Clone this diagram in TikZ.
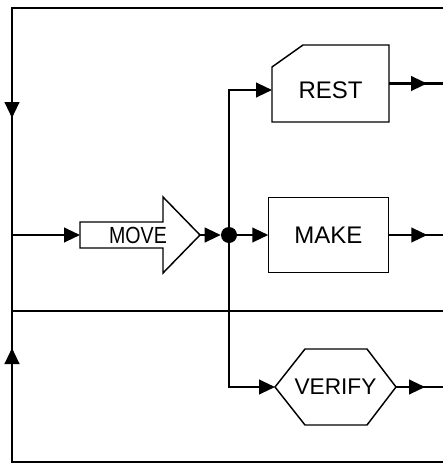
\documentclass[tikz,border=0pt]{standalone}
\usepackage{fontspec}
\setmainfont{Liberation Sans}
\newfontfamily\narrowsf[FakeStretch=0.84]{Liberation Sans}
\usetikzlibrary{positioning, arrows.meta, calc, decorations.markings}

\begin{document}
\begin{tikzpicture}[
    x=0.75pt, y=-0.75pt,
    >={Triangle[length=12pt, width=11pt]},
    wire/.style={line width=1.6pt},
    flow/.style={wire, ->},
    midflow/.style={postaction={decorate}, decoration={markings, mark=at position #1 with {\arrow{>}}}},
    outline/.style={line width=1.1pt},
    blk/.style={rectangle, outline, inner sep=0pt, outer sep=0pt, align=center, font=\fontsize{18}{21}\selectfont},
    junct/.style={circle, fill=black, inner sep=0pt, minimum size=12pt},
]
\useasboundingbox (0,0) rectangle (443,464);

% frame corners
\coordinate (tl) at (12,8);
\coordinate (tr) at (443,8);
\coordinate (ml) at (12,311);
\coordinate (mr) at (443,311);
\coordinate (bl) at (12,462);
\coordinate (br) at (443,462);

% blocks
\node [blk, font=\narrowsf\fontsize{17.5}{20}\selectfont] (move) at (138,235) {MOVE};
\node [junct] (hub) at (229,235) {};
\node [blk, draw, minimum width=90pt, minimum height=56.25pt, right=23.25pt of hub] (make) {MAKE};
\node [blk, minimum width=87.75pt, minimum height=57.75pt, text height=22.6pt, text depth=0pt] (rest) at (330.5,83.5) {REST};
\node [blk, minimum width=90.75pt, minimum height=57pt, font=\fontsize{17}{20}\selectfont] (verify) at (335.5,387) {VERIFY};

% block arrow round MOVE
\coordinate (movetail) at ($(move)+(-58,0)$);
\coordinate (movetip) at ($(move)+(62,0)$);
\draw [outline] ($(move)+(-58,-13)$) -- ($(move)+(25,-13)$) -- ($(move)+(25,-38)$) -- (movetip)
  -- ($(move)+(25,38)$) -- ($(move)+(25,13)$) -- ($(move)+(-58,13)$) -- cycle;

% REST with the cut corner, VERIFY as a stretched hexagon
\draw [outline] ($(rest.north west)+(0,22)$) -- ($(rest.north west)+(31,0)$) -- (rest.north east)
  -- (rest.south east) -- (rest.south west) -- cycle;
\draw [outline] (verify.west) -- ($(verify.north west)+(30,0)$) -- ($(verify.north east)+(-29,0)$)
  -- (verify.east) -- ($(verify.south east)+(-29,0)$) -- ($(verify.south west)+(30,0)$) -- cycle;

% outer loop
\draw [wire, midflow=405.75pt] (tr) -- (tl) -- (ml);
\draw [wire, midflow=408.75pt] (br) -- (bl) -- (ml);
\draw [wire] (ml) -- (mr);

% main flow
\draw [flow] (movetail -| tl) -- (movetail);
\draw [flow] (movetip) -- (hub);
\draw [flow] (hub) -- (make);
\draw [flow] (hub.center) |- ($(rest.west)+(0,6.5)$);
\draw [flow] (hub.center) |- (verify.west);

% outputs
\draw [wire, midflow=28.5pt] (rest.east) -- (rest.east -| tr);
\draw [wire, midflow=29.25pt] (make.east) -- (make.east -| tr);
\draw [wire, midflow=21.75pt] (verify.east) -- (verify.east -| tr);

\end{tikzpicture}
\end{document}
